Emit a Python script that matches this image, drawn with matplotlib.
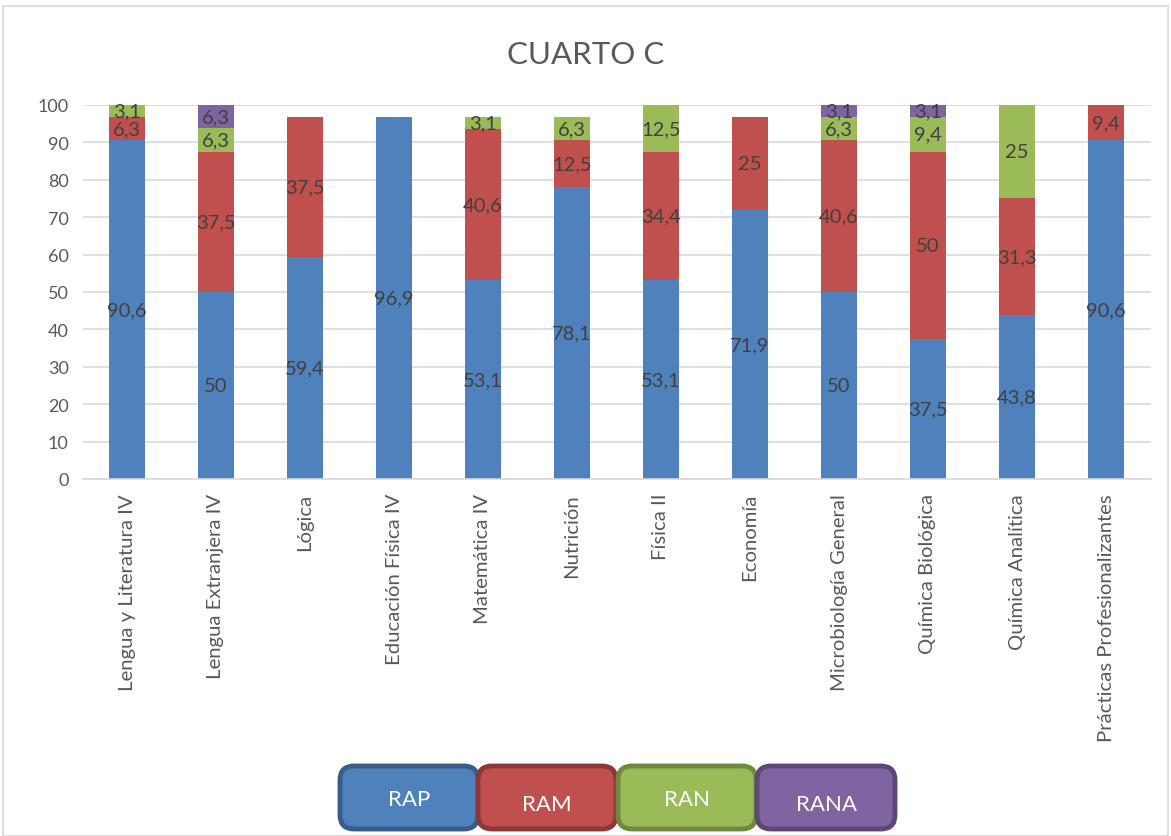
import matplotlib
matplotlib.use("Agg")
import matplotlib.pyplot as plt
from matplotlib.patches import FancyBboxPatch, Rectangle
import numpy as np

plt.rcParams['font.family'] = ['Lato', 'DejaVu Sans']

categories = ["Lengua y Literatura IV", "Lengua Extranjera IV", "Lógica", "Educación Física IV",
              "Matemática IV", "Nutrición", "Física II", "Economía", "Microbiología General",
              "Química Biológica", "Química Analítica", "Prácticas Profesionalizantes"]
rap = [90.6, 50, 59.4, 96.9, 53.1, 78.1, 53.1, 71.9, 50, 37.5, 43.8, 90.6]
ram = [6.3, 37.5, 37.5, 0, 40.6, 12.5, 34.4, 25, 40.6, 50, 31.3, 9.4]
ran = [3.1, 6.3, 0, 0, 3.1, 6.3, 12.5, 0, 6.3, 9.4, 25, 0]
rana = [0, 6.3, 0, 0, 0, 0, 0, 0, 3.1, 3.1, 0, 0]
series_names = ["RAP", "RAM", "RAN", "RANA"]
colors = ["#4F81BD", "#C0504D", "#9BBB59", "#8064A2"]
edges = ["#385D8A", "#8C3836", "#71893F", "#5C4776"]
title = "CUARTO C"

fig = plt.figure(figsize=(11.71, 8.37), dpi=100)
fig.patches.append(Rectangle((3/1171, 0), 1 - 6/1171, 1 - 7/837, transform=fig.transFigure,
                             fill=False, edgecolor="#D9D9D9", linewidth=1.2))
ax = fig.add_axes([82.5/1171, 1 - 480/837, (1150.5 - 82.5)/1171, (480 - 106)/837])

x = np.arange(len(categories))
bottom = np.zeros(len(categories))
for vals, c in zip([rap, ram, ran, rana], colors):
    v = np.array(vals, dtype=float)
    ax.bar(x, v, width=0.4, bottom=bottom, color=c, zorder=2)
    for xi, (b, val) in enumerate(zip(bottom, v)):
        if val > 0:
            s = (f"{val:.1f}" if val != int(val) else f"{int(val)}").replace(".", ",")
            ax.text(xi, b + val / 2, s, ha="center", va="center", fontsize=14.5,
                    color="#404040", zorder=3)
    bottom += v

ax.set_xlim(-0.5, len(categories) - 0.5)
ax.set_ylim(0, 100)
ax.set_yticks(range(0, 101, 10))
ax.yaxis.grid(True, color="#D9D9D9", linewidth=1.2, zorder=0)
ax.set_axisbelow(True)
for s in ["top", "right", "left"]:
    ax.spines[s].set_visible(False)
ax.spines["bottom"].set_color("#D9D9D9")
ax.spines["bottom"].set_linewidth(1.2)
ax.tick_params(axis="y", length=0, labelsize=13, labelcolor="#595959", pad=10)
ax.tick_params(axis="x", length=0, labelsize=14.6, labelcolor="#595959", pad=10)
ax.set_xticks(x)
ax.set_xticklabels(categories, rotation=90)

fig.text(0.5, 1 - 55/837, title, ha="center", va="center", fontsize=22.5, color="#595959")

# legend boxes
box_x = [340, 478, 618, 757]
box_w = 138
box_y0, box_h = 767, 63
text_y = [800, 805, 800, 805]
for i, name in enumerate(series_names):
    p = FancyBboxPatch((box_x[i]/1171, 1 - (box_y0 + box_h)/837), box_w/1171, box_h/837,
                       boxstyle="round,pad=0,rounding_size=0.012", transform=fig.transFigure,
                       facecolor=colors[i], edgecolor=edges[i], linewidth=3.5,
                       mutation_aspect=1171/837)
    fig.patches.append(p)
    fig.text((box_x[i] + box_w/2)/1171, 1 - text_y[i]/837, name, ha="center", va="center",
             fontsize=16, color="white")

fig.savefig("out.png", dpi=100)
